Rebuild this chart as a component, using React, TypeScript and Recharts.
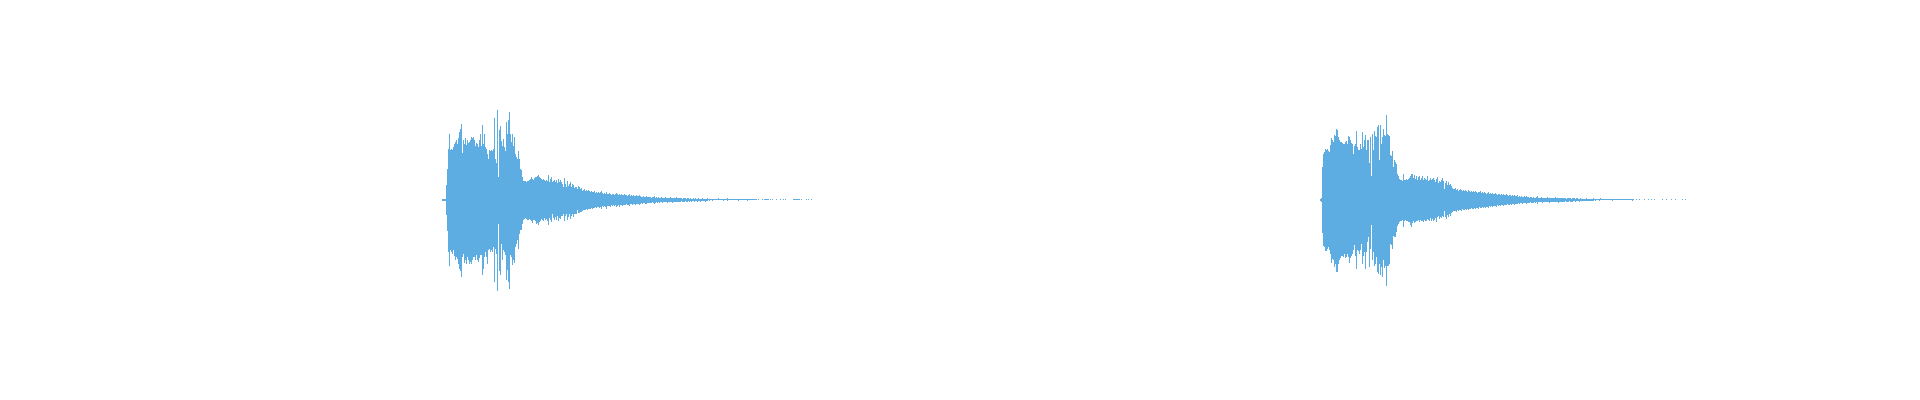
import React from 'react';
import { ComposedChart, Bar, XAxis, YAxis } from 'recharts';

const WAVE_COLOR = '#5DADE2';

// one time bin per screen column, amplitude in sample levels
const TIME_BINS = 1904;
const FULL_SCALE = 192;

// onset bin of each recorded hit
const BURST_ONSETS = [434, 1312];

// per-bin peak (above zero) and trough (below zero) levels
const burstOnePeaks = [
  1, 1, 1, 1,
  15, 31, 51, 66, 50, 51, 50, 53, 56, 58,
  60, 56, 62, 68, 71, 76, 47, 60, 56, 62,
  55, 60, 57, 58, 60, 63, 62, 63, 60, 54,
  57, 56, 53, 60, 66, 54, 75, 56, 66, 53,
  51, 46, 41, 50, 49, 50, 49, 51, 82, 41,
  37, 90, 23, 70, 74, 59, 54, 61, 53, 49,
  78, 66, 80, 88, 66, 58, 66, 54, 63, 46,
  43, 41, 49, 41, 31, 30, 23, 19, 19, 19,
  18, 19, 19, 20, 21, 23, 21, 20, 22, 23,
  23, 24, 25, 23, 22, 21, 20, 21, 20, 19,
  20, 19, 25, 18, 21, 23, 18, 19, 20, 18,
  20, 17, 21, 18, 20, 18, 16, 13, 22, 16,
  13, 19, 14, 16, 18, 13, 16, 15, 12, 13,
  13, 11,
  14, 13, 11, 12, 9, 10, 11, 9, 10, 9,
  10, 9, 8, 9, 8, 8, 9, 7, 8, 7,
  8, 7, 8, 9, 7, 6, 7, 6, 8, 6,
  6, 7, 6, 5, 6, 6, 5, 6, 7, 6,
  5, 6, 5, 6, 5, 5, 6, 5, 5, 4,
  5, 6, 4, 5, 4, 5, 4, 4, 5, 4,
  4, 5, 4, 3, 3, 4, 3, 3, 4, 3,
  3, 3, 3, 2, 3, 3, 4, 2, 3, 2,
  3, 2, 2, 3, 2, 2, 2, 3, 2, 2,
  2, 2, 3, 2, 2, 2, 2, 2, 3, 2,
  2, 2, 2, 2, 1, 2, 2, 2, 1, 2,
  2, 1, 2, 1, 1, 2, 1, 2, 1, 1,
  2, 1, 1, 1, 2, 1, 1, 1, 1, 2,
  1, 1, 1, 1, 1, 1, 1, 1, 1, 1,
  2, 1, 1, 1, 1, 1, 1, 1, 1, 2,
  1, 1, 1, 1, 1, 1, 1, 1, 1, 1,
  1, 1, 1, 1, 1, 1, 1, 1, 1, 1,
  1, 1, 1, 1, 1, 1, 1, 1,
  1, 0, 1, 0, 0, 0, 1, 0, 1, 1,
  1, 1, 1, 0, 1, 0, 1, 0, 0, 0,
  1, 0, 0, 0, 1, 0, 0, 1, 0, 1,
  0, 0, 0, 0, 0, 0, 0, 1, 1, 1,
  1, 1, 1, 1, 0, 1, 0, 0, 0, 0,
  1, 0, 1, 0, 0, 1,
];

const burstOneTroughs = [
  1, 1, 1, 1,
  15, 31, 52, 66, 50, 52, 54, 50, 56, 60,
  57, 59, 64, 69, 71, 77, 57, 54, 63, 60,
  64, 57, 60, 64, 62, 64, 60, 57, 57, 60,
  55, 60, 62, 58, 55, 55, 75, 69, 57, 52,
  57, 64, 50, 49, 52, 50, 52, 47, 82, 49,
  54, 91, 24, 71, 75, 44, 60, 50, 52, 55,
  80, 70, 82, 89, 55, 57, 65, 60, 63, 47,
  44, 40, 49, 34, 30, 30, 24, 20, 19, 18,
  19, 20, 20, 19, 20, 21, 23, 20, 20, 21,
  24, 23, 25, 22, 21, 19, 20, 21, 18, 20,
  19, 21, 25, 18, 20, 22, 14, 18, 20, 17,
  20, 16, 21, 18, 19, 16, 16, 14, 21, 16,
  14, 20, 17, 14, 19, 16, 14, 17, 14, 14,
  14, 10,
  13, 13, 12, 12, 11, 10, 10, 10, 9, 10,
  9, 9, 9, 8, 9, 8, 8, 7, 8, 7,
  7, 8, 7, 9, 6, 7, 6, 7, 9, 6,
  6, 6, 7, 5, 6, 5, 6, 5, 7, 6,
  5, 7, 5, 5, 6, 5, 5, 5, 4, 5,
  5, 6, 4, 4, 5, 4, 4, 5, 4, 4,
  4, 5, 4, 3, 4, 3, 3, 4, 4, 3,
  3, 3, 3, 3, 2, 3, 4, 3, 2, 3,
  2, 3, 2, 2, 3, 2, 2, 2, 2, 3,
  2, 2, 2, 2, 3, 2, 2, 2, 2, 2,
  2, 2, 2, 1, 2, 2, 2, 1, 2, 2,
  1, 2, 1, 2, 1, 1, 2, 1, 1, 2,
  1, 1, 2, 1, 1, 1, 1, 2, 1, 1,
  0, 1, 0, 0, 1, 0, 0, 0, 0, 0,
  0, 0, 0, 0, 0, 1, 0, 0, 0, 1,
  0, 0, 0, 0, 0, 0, 0, 0, 0, 0,
  1, 0, 0, 0, 0, 0, 0, 0, 0, 1,
];

const burstTwoPeaks = [
  1, 2,
  33, 46, 48, 51, 50, 51, 49, 48, 55, 62,
  60, 58, 65, 64, 71, 70, 63, 60, 58, 58,
  57, 56, 56, 58, 59, 56, 64, 63, 60, 57,
  56, 46, 54, 56, 69, 53, 50, 50, 56, 51,
  68, 53, 60, 65, 50, 60, 60, 37, 63, 24,
  66, 50, 69, 64, 63, 73, 75, 40, 75, 56,
  63, 71, 65, 64, 85, 66, 65, 64, 45, 44,
  49, 33, 40, 38, 36, 26, 24, 21, 20, 20,
  19, 26, 20, 20, 21, 20, 21, 22, 24, 26,
  26, 22, 25, 21, 24, 20, 23, 24, 20, 22,
  24, 20, 22, 21, 20, 24, 19, 20, 22, 20,
  21, 22, 20, 18, 21, 23, 17, 19, 18, 20,
  22, 19, 11, 17, 19, 15, 18, 15, 16, 14, 12, 11,
  11, 12, 10, 11, 9, 10, 11, 10, 9, 10,
  9, 10, 9, 8, 10, 9, 8, 9, 8, 9,
  8, 9, 8, 7, 8, 8, 9, 7, 8, 7,
  8, 7, 6, 7, 8, 6, 7, 6, 7, 6,
  6, 7, 6, 5, 6, 6, 5, 6, 5, 6,
  5, 5, 6, 5, 4, 5, 5, 4, 5, 4,
  5, 4, 4, 5, 3, 4, 3, 4, 3, 3,
  4, 3, 4, 3, 3, 2, 3, 3, 2, 3,
  2, 2, 3, 4, 2, 2, 2, 3, 2, 2,
  2, 2, 2, 3, 2, 2, 2, 2, 2, 2,
  2, 3, 2, 2, 2, 2, 2, 2, 2, 2,
  2, 2, 1, 2, 2, 2, 2, 1, 2, 2,
  2, 1, 2, 2, 1, 1, 2, 1, 1, 1,
  1, 1, 2, 1, 1, 1, 1, 1, 1, 2,
  1, 1, 1, 1, 1, 1, 2, 1, 1, 1,
  1, 1, 1, 1, 1, 1, 1, 1, 1, 1,
  1, 1, 1, 1, 1, 1, 1, 1, 1, 1,
  1, 1, 1, 1, 1, 1, 1, 1, 1, 1,
  0, 0, 1, 0, 0, 1, 0, 0, 0, 0,
  1, 0, 0, 0, 1, 0, 0, 1, 0, 0,
  1, 0, 0, 0, 0, 0, 0, 0, 1, 0,
  0, 0, 1, 0, 0, 0, 0, 1, 0, 0,
  0, 1, 0, 0, 0, 0, 0, 0, 1, 0,
  0, 1,
];

const burstTwoTroughs = [
  1, 2,
  33, 46, 47, 51, 51, 49, 47, 50, 54, 63,
  59, 60, 67, 64, 72, 72, 64, 60, 58, 56,
  56, 57, 54, 58, 57, 54, 57, 63, 58, 56,
  54, 50, 45, 56, 69, 50, 51, 54, 50, 44,
  64, 56, 52, 69, 52, 42, 37, 67, 49, 25,
  60, 52, 66, 64, 57, 72, 74, 64, 75, 67,
  77, 60, 68, 66, 86, 66, 66, 64, 44, 45,
  49, 36, 37, 37, 32, 26, 24, 22, 21, 21,
  20, 27, 21, 20, 21, 21, 22, 22, 25, 27,
  23, 21, 23, 22, 21, 21, 20, 22, 20, 21,
  21, 22, 20, 21, 21, 19, 20, 21, 18, 21,
  19, 21, 20, 18, 22, 17, 16, 19, 17, 18,
  16, 17, 11, 17, 19, 15, 17, 14, 16, 13, 12, 11,
  11, 11, 12, 10, 11, 10, 10, 11, 9, 10,
  10, 9, 10, 9, 10, 9, 9, 8, 9, 9,
  8, 9, 8, 8, 9, 7, 8, 8, 7, 8,
  7, 8, 7, 7, 8, 6, 7, 6, 7, 6,
  6, 6, 7, 5, 6, 5, 6, 5, 5, 6,
  5, 5, 5, 4, 5, 5, 4, 5, 4, 4,
  5, 4, 4, 4, 3, 4, 3, 3, 4, 3,
  3, 3, 4, 3, 3, 3, 2, 3, 3, 3,
  2, 3, 2, 4, 2, 2, 2, 2, 3, 2,
  2, 2, 2, 2, 2, 3, 2, 2, 2, 2,
  2, 2, 2, 2, 3, 2, 2, 2, 2, 2,
  2, 1, 2, 2, 2, 1, 2, 2, 2, 1,
  1, 2, 1, 1, 1, 2, 1, 1, 1, 1,
  1, 1, 1, 1, 1, 1, 1, 1, 1, 1,
  0, 1, 0, 0, 0, 1, 0, 0, 0, 0,
  0, 0, 0, 0, 0, 0, 0, 0, 1, 0,
  0, 0, 0, 0, 0, 0, 0, 0, 0, 0,
  0, 0, 0, 0, 0, 0, 0, 0, 1, 0,
];

const buildBurst = (onset: number, peaks: number[], troughs: number[]) =>
  peaks
    .map((peak, i) => ({ bin: onset + i + 0.5, peak, trough: troughs[i] ?? 0 }))
    .filter((row) => row.peak > 0 || row.trough > 0)
    .map((row) => ({ bin: row.bin, level: [-row.trough, row.peak] }));

const waveRows = [
  ...buildBurst(BURST_ONSETS[0], burstOnePeaks, burstOneTroughs),
  ...buildBurst(BURST_ONSETS[1], burstTwoPeaks, burstTwoTroughs),
];

export default function App() {
  return (
    <div style={{ width: TIME_BINS, height: FULL_SCALE * 2, background: '#fff' }}>
      <ComposedChart
        width={TIME_BINS}
        height={FULL_SCALE * 2}
        data={waveRows}
        margin={{ top: 0, right: 0, bottom: 0, left: 0 }}
        barCategoryGap={0}
        barGap={0}
      >
        <XAxis dataKey="bin" type="number" domain={[0, TIME_BINS]} allowDataOverflow hide />
        <YAxis type="number" domain={[-FULL_SCALE, FULL_SCALE]} allowDataOverflow hide />
        <Bar dataKey="level" fill={WAVE_COLOR} isAnimationActive={false} />
      </ComposedChart>
    </div>
  );
}
